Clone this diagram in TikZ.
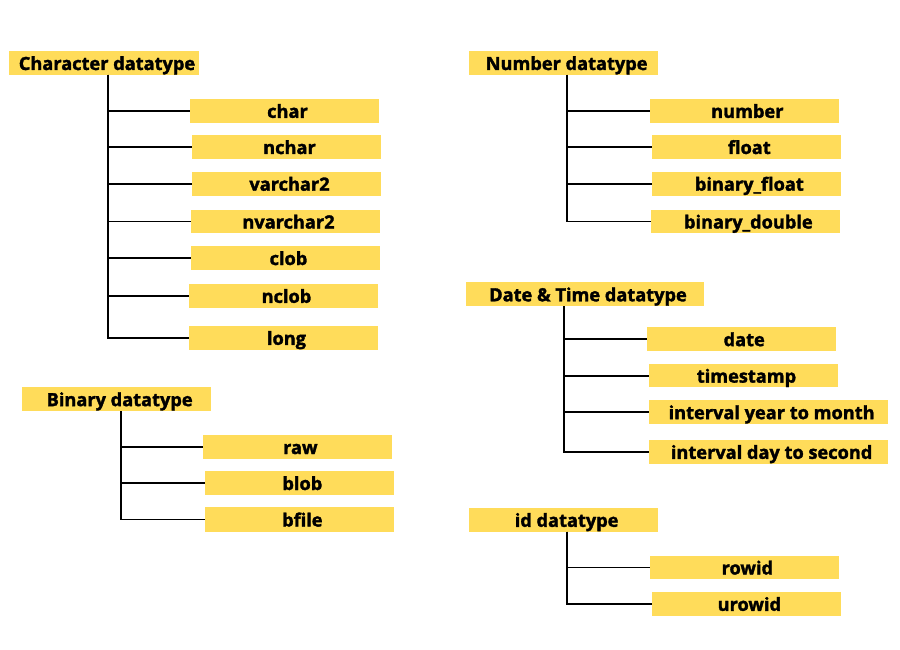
\documentclass[tikz,border=0pt]{standalone}
\usepackage{fontspec}
\setmainfont{Open Sans}[BoldFeatures={FakeBold=1.8}]
\definecolor{boxyellow}{HTML}{FFDC5A}
\tikzset{
  tbox/.style={fill=boxyellow, inner sep=0pt, font=\fontsize{18.2}{20}\selectfont\bfseries, text=black},
  conn/.style={draw=black, line width=1.7pt},
}
% \bx{name}{x1}{y1}{x2}{y2}{text}
\newcommand{\bx}[6]{%
  \pgfmathsetmacro{\bxw}{#4-#2}\pgfmathsetmacro{\bxh}{#5-#3}%
  \node[tbox, minimum width=\bxw pt, minimum height=\bxh pt] (#1) at ({(#2+#4)/2},{(#3+#5)/2}) {\hspace*{6pt}\raisebox{-7pt}[0pt][0pt]{#6}};}
\begin{document}
\begin{tikzpicture}[x=1pt,y=-1pt]
\useasboundingbox (0,0) rectangle (900,650);
\fill[white] (0,0) rectangle (900,650);
% Character datatype
\bx{chr}{9}{51}{199}{75}{Character datatype}
\bx{char}{190}{99}{379}{122.7}{char}
\bx{nchar}{192}{135}{381}{159}{nchar}
\bx{varchar}{192}{171.7}{381}{195.7}{varchar2}
\bx{nvarchar}{191}{209.7}{380}{233.3}{nvarchar2}
\bx{clob}{191}{246}{380}{270}{clob}
\bx{nclob}{189}{284}{378}{307.7}{nclob}
\bx{long}{189}{325.7}{378}{350}{long}
\coordinate (ct) at (107.7,75);
\foreach \c in {char,nchar,varchar,nvarchar,clob,nclob,long}{\draw[conn] (ct) |- (\c.west);}
% Number datatype
\bx{num}{469.3}{51}{658}{75}{Number datatype}
\bx{number}{649.7}{99}{839}{122.7}{number}
\bx{float}{652}{135}{840.7}{159}{float}
\bx{bfloat}{652}{171.7}{840.7}{195.7}{binary\_float}
\bx{bdouble}{651}{209.7}{839.7}{233.3}{binary\_double}
\coordinate (nt) at (567,75);
\foreach \c in {number,float,bfloat,bdouble}{\draw[conn] (nt) |- (\c.west);}
% Binary datatype
\bx{bin}{22}{387.3}{211.3}{411}{Binary datatype}
\bx{raw}{202.7}{435}{392}{459}{raw}
\bx{blob}{204.7}{471}{394}{495}{blob}
\bx{bfile}{204.7}{507.3}{394}{531.7}{bfile}
\coordinate (bt) at (120.7,411);
\foreach \c in {raw,blob,bfile}{\draw[conn] (bt) |- (\c.west);}
% Date & Time datatype
\bx{dt}{466}{282.3}{704}{306.3}{Date \& Time datatype}
\bx{date}{646.7}{327.3}{835.7}{351}{date}
\bx{tstamp}{649}{364}{838}{387.3}{timestamp}
\bx{iym}{649}{400.3}{888.3}{424}{interval year to month}
\bx{ids}{649}{440}{888.3}{463.7}{interval day to second}
\coordinate (dtt) at (564,306.3);
\foreach \c in {date,tstamp,iym,ids}{\draw[conn] (dtt) |- (\c.west);}
% id datatype
\bx{idt}{469.3}{508}{658}{531.7}{id datatype}
\bx{rowid}{649.7}{555.7}{839}{579.3}{rowid}
\bx{urowid}{652}{592}{840.7}{615.7}{urowid}
\coordinate (it) at (567.3,531.7);
\foreach \c in {rowid,urowid}{\draw[conn] (it) |- (\c.west);}
\end{tikzpicture}
\end{document}
